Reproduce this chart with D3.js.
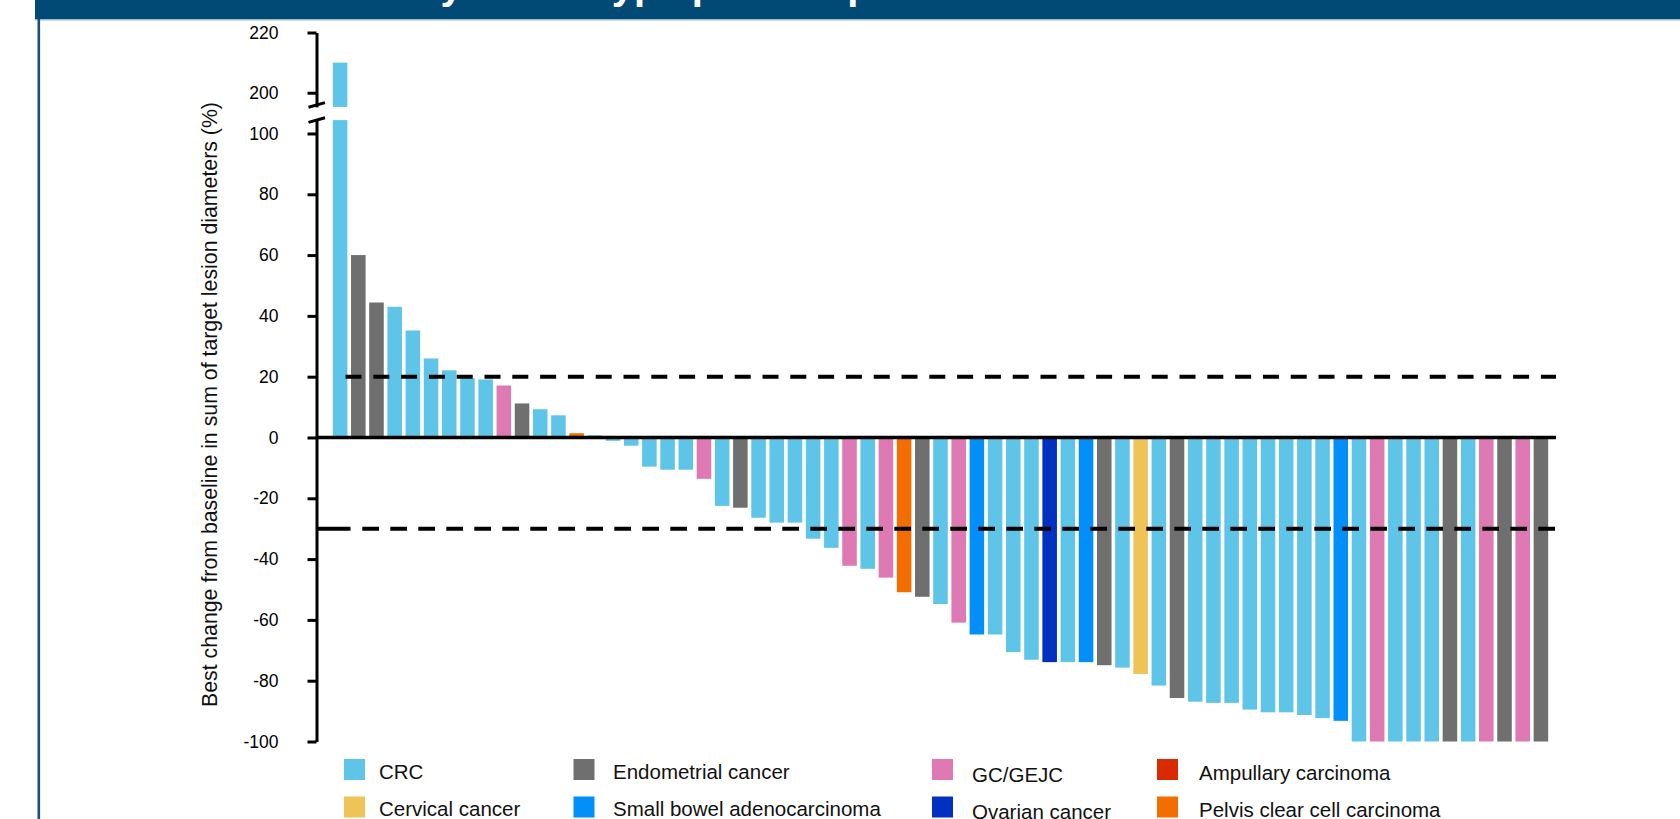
<!DOCTYPE html>
<meta charset="utf-8">

<style type="text/css">
	body {
		margin: 0;
		background: #fff;
	}
	svg {
		display: block;
		font-family: "Liberation Sans", Arial, sans-serif;
	}
</style>

<body>

</body>

<script src="https://d3js.org/d3.v7.min.js"></script>

<script>

	// tumour types, in legend order (row by row)
	var categories = ["CRC", "Endometrial cancer", "GC/GEJC", "Ampullary carcinoma",
		"Cervical cancer", "Small bowel adenocarcinoma", "Ovarian cancer", "Pelvis clear cell carcinoma"];
	var categoryColors = ["#5ec5e9", "#6f6f6f", "#de79b4", "#da2a00",
		"#eec458", "#028ffa", "#0131c1", "#f26e00"];

	// best change per patient (%), sorted as in the waterfall
	var barValues = [210, 60, 44.4, 43, 35.2, 26, 22.1, 19.5, 19.1, 17.1,
		11.2, 9.3, 7.3, 1.4, 0.7, -1.1, -2.7, -9.6, -10.6, -10.6,
		-13.6, -22.5, -23.1, -26.4, -28, -28, -33.3, -36.3, -42.2, -43.2,
		-46.1, -50.9, -52.4, -54.8, -60.9, -64.8, -64.8, -70.6, -73.1, -73.9,
		-73.9, -73.9, -74.9, -75.7, -77.8, -81.6, -85.7, -86.9, -87.3, -87.3,
		-89.5, -90.4, -90.4, -91.3, -92.3, -93.2, -100, -100, -100, -100,
		-100, -100, -100, -100, -100, -100, -100];
	// tumour type of each bar (index into categories)
	var barTypes = [0, 1, 1, 0, 0, 0, 0, 0, 0, 2,
		1, 0, 0, 7, 0, 0, 0, 0, 0, 0,
		2, 0, 1, 0, 0, 0, 0, 0, 2, 0,
		2, 7, 1, 0, 2, 5, 0, 0, 0, 6,
		0, 5, 1, 0, 4, 0, 1, 0, 0, 0,
		0, 0, 0, 0, 0, 5, 0, 2, 0, 0,
		0, 1, 0, 2, 1, 2, 1];

	var lowerTicks = [-100, -80, -60, -40, -20, 0, 20, 40, 60, 80, 100];
	var upperTicks = [200, 220];
	var refLines = [20, -30];

	var yLabel = "Best change from baseline in sum of target lesion diameters (%)";
	var titleText = "Best tumor reduction by tumor type per independent central review";

	var width = 1680, height = 819;
	var axisX = 316.5;

	var svg = d3.select("body").append("svg")
		.attr("width", width)
		.attr("height", height);

	// slide frame: header band + left rule
	svg.append("rect").attr("x", 35).attr("y", 0).attr("width", width - 35).attr("height", 19).attr("fill", "#004a75");
	svg.append("rect").attr("x", 35).attr("y", 19).attr("width", width - 35).attr("height", 1.5).attr("fill", "#a3bccd");
	svg.append("rect").attr("x", 37.5).attr("y", 19).attr("width", 2.6).attr("height", height - 19).attr("fill", "#1c4e78");

	// title sits above the top edge, only its descenders show
	var title = svg.append("text")
		.attr("y", -1.5)
		.attr("font-size", 40)
		.attr("font-weight", "bold")
		.attr("fill", "#fff")
		.text("Best tumor reduction ");
	var prefixW = title.node().getComputedTextLength();
	title.attr("x", 405 - prefixW).text(titleText);

	var x = d3.scaleBand()
		.domain(d3.range(barValues.length))
		.range([331, 1550])
		.paddingInner(0.2)
		.paddingOuter(0.1);

	var lowMax = 104.4, upMin = 195.3;
	var yLow = d3.scaleLinear().domain([-100, lowMax]).range([741.5, 120.1]);
	var yUp = d3.scaleLinear().domain([upMin, 220]).range([106.9, 32.5]);

	var xEnd = x.range()[1] + 6;

	var data = barValues.map(function(v, i) { return {i: i, v: v, t: barTypes[i]}; });

	var g = svg.append("g");

	// bars, lower segment
	g.selectAll("rect.low")
		.data(data)
		.enter()
		.append("rect")
		.attr("class", "low")
		.attr("x", function(d) { return x(d.i); })
		.attr("width", x.bandwidth())
		.attr("y", function(d) { return yLow(Math.max(0, Math.min(d.v, lowMax))); })
		.attr("height", function(d) { return Math.abs(yLow(Math.min(d.v, lowMax)) - yLow(0)); })
		.attr("fill", function(d) { return categoryColors[d.t]; });

	// bars above the axis break
	g.selectAll("rect.up")
		.data(data.filter(function(d) { return d.v > lowMax; }))
		.enter()
		.append("rect")
		.attr("class", "up")
		.attr("x", function(d) { return x(d.i); })
		.attr("width", x.bandwidth())
		.attr("y", function(d) { return yUp(d.v); })
		.attr("height", function(d) { return yUp(upMin) - yUp(d.v); })
		.attr("fill", function(d) { return categoryColors[d.t]; });

	// zero line
	svg.append("line")
		.attr("x1", axisX).attr("x2", xEnd)
		.attr("y1", yLow(0)).attr("y2", yLow(0))
		.attr("stroke", "#000").attr("stroke-width", 3.5);

	// reference lines (+20 % / -30 %)
	svg.append("line")
		.attr("x1", x(1) - 5.5).attr("x2", xEnd)
		.attr("y1", yLow(refLines[0])).attr("y2", yLow(refLines[0]))
		.attr("stroke", "#000").attr("stroke-width", 4)
		.attr("stroke-dasharray", "16 11.8");
	svg.append("line")
		.attr("x1", axisX + 1.5).attr("x2", x(1) - 0.5)
		.attr("y1", yLow(refLines[1])).attr("y2", yLow(refLines[1]))
		.attr("stroke", "#000").attr("stroke-width", 4);
	svg.append("line")
		.attr("x1", x(1) + 11.3).attr("x2", xEnd)
		.attr("y1", yLow(refLines[1])).attr("y2", yLow(refLines[1]))
		.attr("stroke", "#000").attr("stroke-width", 4)
		.attr("stroke-dasharray", "16.7 11.3");

	// y axes (split), plain hyphen minus like the source
	var fmt = function(d) { return String(d); };
	var axLow = svg.append("g")
		.attr("transform", "translate(" + axisX + ",0)")
		.call(d3.axisLeft(yLow).tickValues(lowerTicks).tickFormat(fmt).tickSize(9).tickSizeOuter(0).tickPadding(29));
	var axUp = svg.append("g")
		.attr("transform", "translate(" + axisX + ",0)")
		.call(d3.axisLeft(yUp).tickValues(upperTicks).tickFormat(fmt).tickSize(9).tickSizeOuter(0).tickPadding(29));

	[axLow, axUp].forEach(function(ax) {
		ax.select(".domain").attr("stroke", "#000").attr("stroke-width", 3);
		ax.selectAll(".tick line").attr("stroke", "#000").attr("stroke-width", 3);
		ax.selectAll(".tick text")
			.attr("font-family", "'Liberation Sans', Arial, sans-serif")
			.attr("font-size", 17.5)
			.attr("fill", "#000");
	});

	// break marks
	[yUp(upMin) - 2, yLow(lowMax)].forEach(function(yy) {
		svg.append("line")
			.attr("x1", axisX - 8).attr("x2", axisX + 8.5)
			.attr("y1", yy + 2.3).attr("y2", yy - 2.3)
			.attr("stroke", "#000").attr("stroke-width", 3);
	});

	// y label
	svg.append("text")
		.attr("transform", "translate(217,404.5) rotate(-90)")
		.attr("text-anchor", "middle")
		.attr("font-size", 21.3)
		.attr("fill", "#111")
		.text(yLabel);

	// legend, 2 rows x 4 columns
	var legSqX = [344, 573.5, 932, 1157];
	var legTxtX = [379, 613, 972, 1199];
	var legRowY = [759, 796.5];
	var legShift = [0, 0, 3, 1];

	var leg = svg.append("g").selectAll("g")
		.data(categories)
		.enter()
		.append("g");

	leg.append("rect")
		.attr("x", function(d, i) { return legSqX[i % 4]; })
		.attr("y", function(d, i) { return legRowY[Math.floor(i / 4)]; })
		.attr("width", 21)
		.attr("height", 21)
		.attr("fill", function(d, i) { return categoryColors[i]; });

	leg.append("text")
		.attr("x", function(d, i) { return legTxtX[i % 4]; })
		.attr("y", function(d, i) { return legRowY[Math.floor(i / 4)] + 19.5 + legShift[i % 4]; })
		.attr("font-size", 20.5)
		.attr("fill", "#111")
		.text(function(d) { return d; });

</script>
